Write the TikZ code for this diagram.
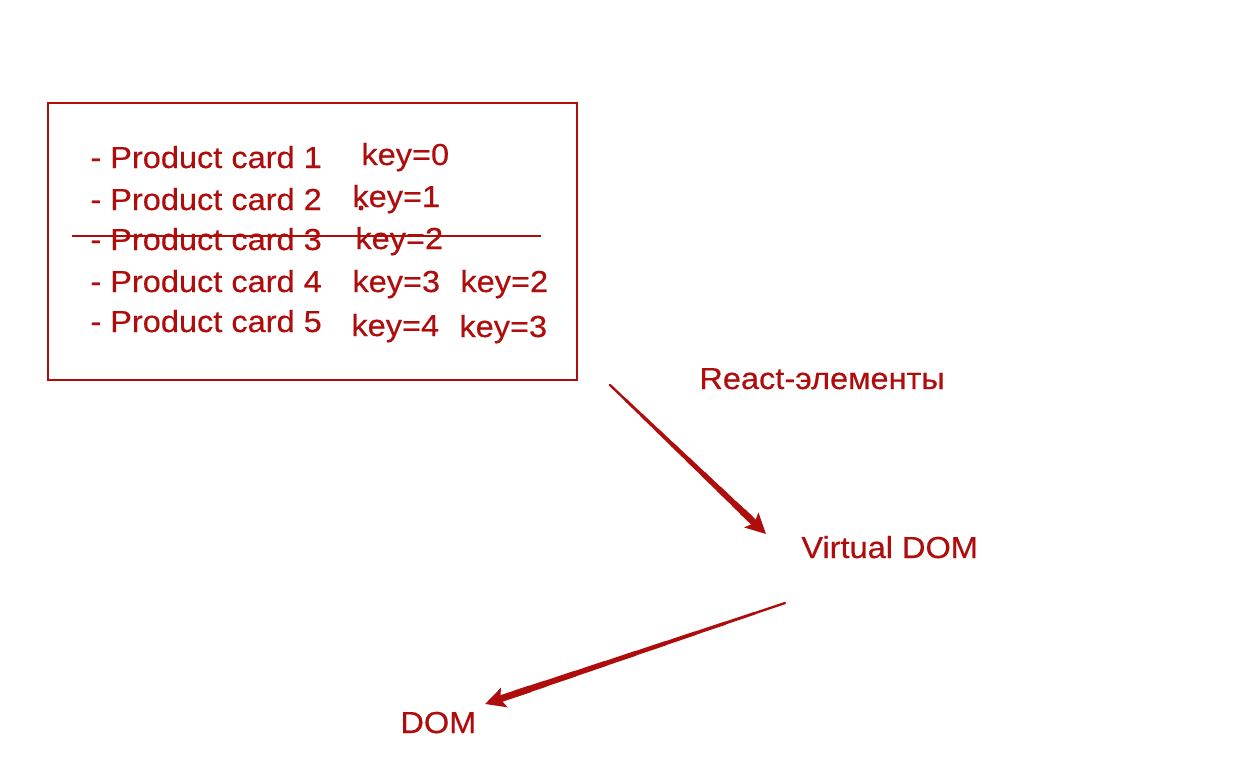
\documentclass[tikz,border=0pt]{standalone}
\usepackage{fontspec}
\setmainfont{Liberation Sans}[FakeStretch=1.07,FakeBold=0.4]
\usetikzlibrary{arrows.meta,calc}
\definecolor{slidered}{RGB}{175,12,12}

\begin{document}
\begin{tikzpicture}[x=0.5pt,y=-0.5pt,>={Stealth[length=10pt,width=10pt,inset=2pt]},
	every node/.style={text=slidered,inner sep=0pt,anchor=base west,
		font=\fontsize{15.2}{18}\selectfont},
	flow/.style={->,draw=slidered,fill=slidered,line width=3.4pt}]

\useasboundingbox (0,0) rectangle (1246,781);

\draw [slidered,line width=0.75pt] (48,103) rectangle (577,380);

\foreach \i/\y in {1/168,2/210,3/250,4/292,5/332}
	\node (card\i) at (90,\y) {- Product card \i};

\foreach \k/\x/\y in {0/361/165,1/352/207,2/355/249,3/352/292,4/351/336}
	\node (key\k) at (\x,\y) {key=\k};

\node (newkey2) at (460,292) {key=2};
\node (newkey3) at (459,337) {key=3};

\fill [slidered] (361,208) circle (2.5);

\draw [slidered,line width=0.75pt] (72,236) to (541,236);

%%%%%%%%%%%%%%%%%%%%%%%%%%%%%%%%%%%%%%%%%%

\node (react) at (699,389) {React-элементы};
\node (vdom) at (801,558) {Virtual DOM};
\node (dom) at (400,733) {DOM};

\coordinate (reactout) at (610,385);
\coordinate (vdomin) at (766,534);
\coordinate (vdomout) at (785,603);
\coordinate (domin) at (485,704);

\foreach \s/\t in {reactout/vdomin,vdomout/domin} {
	\foreach \j [count=\n from 1] in {0,...,8}
		\draw [slidered,line cap=round,line width=1.2pt+0.25pt*\j]
			($(\s)!\j/10!(\t)$) to ($(\s)!\n/10!(\t)$);
	\draw [flow] ($(\s)!0.85!(\t)$) to (\t);
}

\end{tikzpicture}
\end{document}
